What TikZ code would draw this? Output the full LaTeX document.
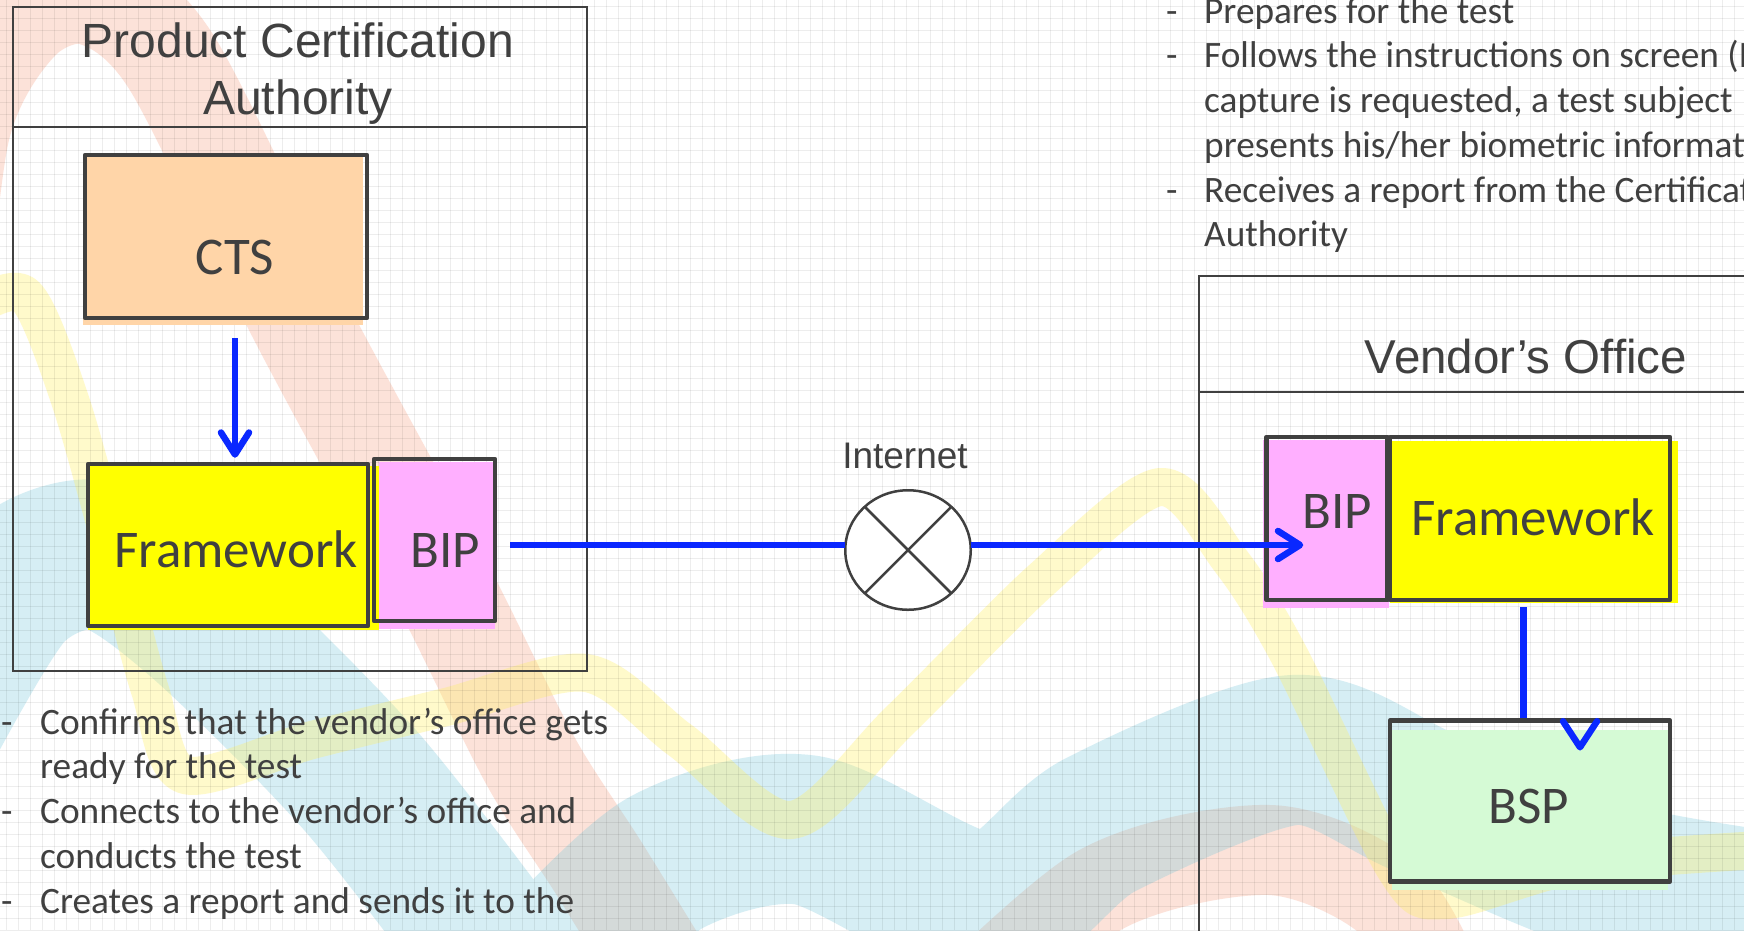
\documentclass[tikz,border=0pt]{standalone}
\usepackage{fontspec}
\setmainfont{Carlito}
\newfontfamily\arialfont{Liberation Sans}
\usetikzlibrary{arrows.meta,calc,shapes.geometric}
\definecolor{txt}{HTML}{404040}
\definecolor{peach}{HTML}{FFD5A8}
\definecolor{fwyellow}{HTML}{FFFF00}
\definecolor{bippink}{HTML}{FFAFFF}
\definecolor{bspgreen}{HTML}{D5FAD5}
\definecolor{linkblue}{HTML}{0A28FF}
\definecolor{swsalmon}{HTML}{F8A082}
\definecolor{swblue}{HTML}{78C8DC}
\definecolor{swyellow}{HTML}{FFF064}
\begin{document}
\begin{tikzpicture}[x=1pt,y=-1pt,
  box/.style={draw=txt, line width=4.5pt, rectangle, inner sep=0pt, line join=round},
  container/.style={draw=txt, line width=2pt, rectangle, inner sep=0pt},
  boxtext/.style={font=\fontsize{53}{62}\selectfont, text=txt, inner sep=0pt},
  titletext/.style={font=\arialfont\fontsize{48}{57}\selectfont, text=txt, align=center, inner sep=0pt},
  bullets/.style={font=\fontsize{37.3}{44.75}\selectfont, text=txt, align=left, inner sep=0pt},
  bluelink/.style={draw=linkblue, line width=6.5pt},
  linktip/.style={-{Straight Barb[round,length=22pt,width=28pt]}},
  gridline/.style={draw=black, opacity=0.07, line width=1pt},
  swoosh/.style={line cap=round, line join=round, opacity=0.3},
]
\useasboundingbox (0,0) rectangle (1744,930);
\clip (0,0) rectangle (1744,930);
\fill[white] (0,0) rectangle (1744,930);

% background swooshes
\draw[swoosh, swsalmon, line width=100pt] plot[smooth] coordinates {(-70,400) (-40,130) (20,20) (90,-5) (170,60) (300,320) (440,580) (530,760) (600,870) (680,1000)};
\draw[swoosh, swsalmon, line width=90pt] plot[smooth] coordinates {(930,1040) (1100,890) (1270,850) (1390,900) (1450,1010)};
\draw[swoosh, swblue, line width=150pt]
  plot[smooth] coordinates {(-80,740) (10,590) (100,555) (200,620) (360,780) (500,960)}
  plot[smooth] coordinates {(560,960) (667,862) (806,830) (985,907) (1100,825) (1293,750) (1424,802) (1600,875) (1760,905)};
\draw[swoosh, swyellow, opacity=0.33, line width=38pt] plot[smooth] coordinates {(-30,310) (25,295) (70,400) (115,560) (150,690) (185,775) (312,740) (446,707) (586,673) (680,740) (791,820) (900,720) (1041,580) (1160,487) (1230,560) (1288,653) (1396,870) (1446,900) (1576,865) (1760,850)};

% grid
\foreach \gx in {6,18,...,1744} \draw[gridline] (\gx,0) -- (\gx,930);
\foreach \gy in {6,18,...,930} \draw[gridline] (0,\gy) -- (1744,\gy);

% containers
\node[container, minimum width=574pt, minimum height=664pt] (pca) at (299.5,339) {};
\coordinate (pcaDiv) at (0,127);
\draw[txt, line width=2pt] (pca.west |- pcaDiv) -- (pca.east |- pcaDiv);
\node[titletext, anchor=north] (pcaT) at (298,23) {Product Certification\\Authority};

\node[container, minimum width=600pt, minimum height=720pt, anchor=north west] (vo) at (1198,275) {};
\coordinate (voDiv) at (0,392);
\draw[txt, line width=2pt] (vo.west |- voDiv) -- (vo.east |- voDiv);
\node[titletext, anchor=base, font=\arialfont\fontsize{47.5}{55}\selectfont] (voT) at (1526,373) {Vendor’s Office};

% fills (slightly offset, as in the reference)
\fill[peach] (83,156) rectangle (363,325);
\fill[fwyellow] (88,466) rectangle (379,630);
\fill[bippink] (379,462) rectangle (495,629);
\fill[bippink] (1263,440) rectangle (1389,608);
\fill[fwyellow] (1390,441) rectangle (1678,603);
\fill[bspgreen] (1392,730) rectangle (1668,890);

% boxes
\node[box, minimum width=282pt, minimum height=163pt] (cts) at (226,236.5) {};
\node[box, minimum width=280pt, minimum height=162pt] (fwL) at (228,545) {};
\node[box, minimum width=121pt, minimum height=162pt] (bipL) at (434.5,540) {};
\node[box, minimum width=121pt, minimum height=163pt] (bipR) at (1327,518.5) {};
\node[box, minimum width=280pt, minimum height=163pt] (fwR) at (1530,518.5) {};
\node[box, minimum width=280pt, minimum height=161pt] (bsp) at (1530,801) {};

\node[boxtext, anchor=base] (ctsT) at (235,274) {CTS};
\node[boxtext, anchor=base] (fwLT) at (236,567) {Framework};
\node[boxtext, anchor=base] (bipLT) at (445,567) {BIP};
\node[boxtext, anchor=base] (bipRT) at (1337,528) {BIP};
\node[boxtext, anchor=base] (fwRT) at (1533,535) {Framework};
\node[boxtext, anchor=base] (bspT) at (1529,823) {BSP};

% internet
\node[anchor=base, font=\arialfont\fontsize{37}{44}\selectfont, text=txt, inner sep=0pt] (inetT) at (905,468) {Internet};
\node[ellipse, draw=txt, line width=2.5pt, fill=white, minimum width=125.5pt, minimum height=119.5pt, inner sep=0pt, outer sep=0pt] (inet) at (908,550) {};
\draw[txt, line width=2.5pt] (inet.135) -- (inet.-45) (inet.45) -- (inet.-135);

% notes
\node[bullets, anchor=north west] (pcaNotes) at (1,702.7) {\strut\makebox[39pt][l]{-}Confirms that the vendor’s office gets\\ \makebox[39pt]{}ready for the test\\ \makebox[39pt][l]{-}Connects to the vendor’s office and\\ \makebox[39pt]{}conducts the test\\ \makebox[39pt][l]{-}Creates a report and sends it to the};
\node[bullets, anchor=north west] (voNotes) at (1166,-8.3) {\strut\makebox[38pt][l]{-}Prepares for the test\\ \makebox[38pt][l]{-}Follows the instructions on screen (If\\ \makebox[38pt]{}capture is requested, a test subject\\ \makebox[38pt]{}presents his/her biometric information\\ \makebox[38pt][l]{-}Receives a report from the Certification\\ \makebox[38pt]{}Authority};

% connectors
\coordinate (lineY) at (0,545);
\draw[bluelink, linktip] ($(cts.south)+(9,18)$) -- ($(fwL.north)+(7,-4)$);
\draw[bluelink] ($(bipL.east |- lineY)+(13,0)$) -- (inet.west |- lineY);
\draw[bluelink, linktip] (inet.east |- lineY) -- ($(bipR.west |- lineY)+(39,0)$);
\draw[bluelink] ($(fwR.south)+(-6.5,5)$) -- ($(bsp.north)+(-6.5,0)$);
\draw[linkblue, line width=6.5pt, line cap=round, line join=round] ($(bsp.north)+(33,3)$) -- ++(17,26) -- ++(17,-26);
\end{tikzpicture}
\end{document}
